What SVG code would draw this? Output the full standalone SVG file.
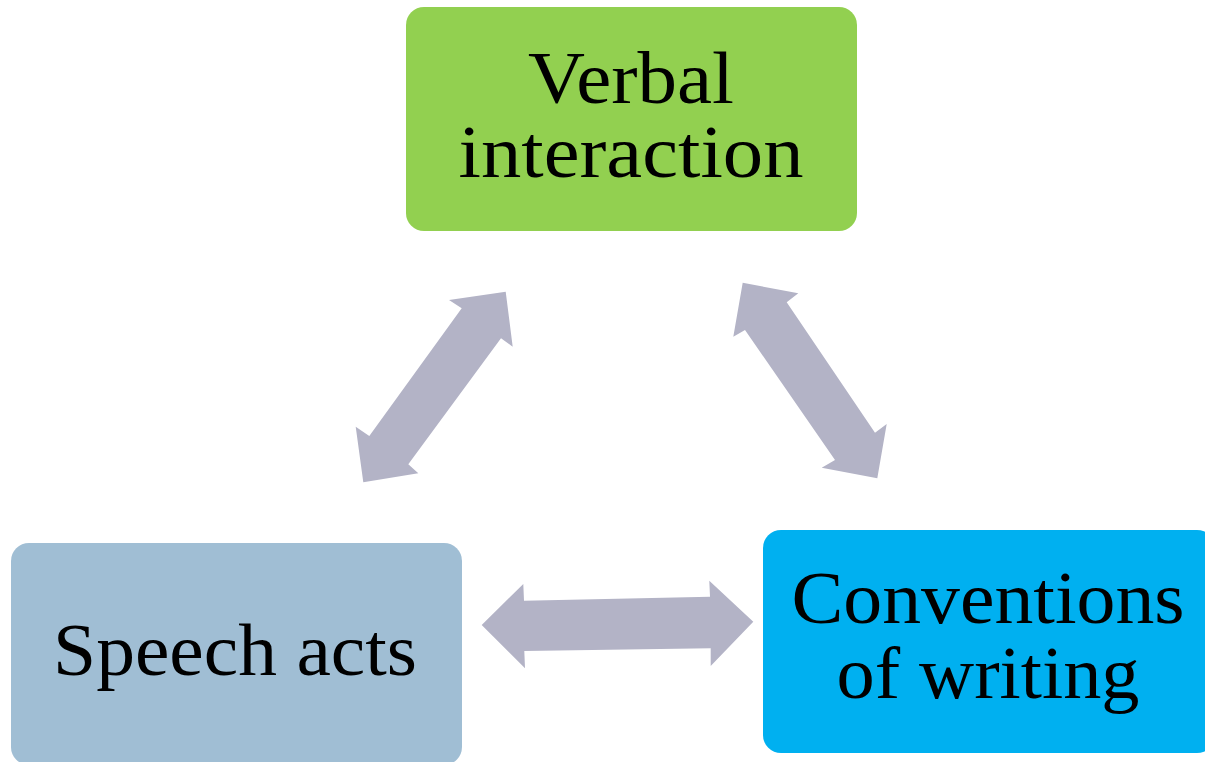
<svg xmlns="http://www.w3.org/2000/svg" width="1205" height="762" viewBox="0 0 1205 762">
<style>
.lbl{font-family:"Liberation Serif","Times New Roman",serif;font-size:74px;fill:#000;text-anchor:middle}
.arr{fill:#B3B3C6}
</style>
<rect width="1205" height="762" fill="#fff"/>
<g id="connectors">
<polygon class="arr" points="505.7,291.7 512.7,346.7 501,338.3 408.3,464.3 418.3,473.3 363.3,482.3 355.7,426.7 369.3,436 461.7,308.3 449,300"/>
<polygon class="arr" points="742.7,282.7 798.3,293.3 786.7,302.3 875,432.7 886.7,424 877.3,478.3 821.7,467.7 835,460 745,330 733.3,336.7"/>
<polygon class="arr" points="481.7,625 523.3,584 524,600.7 710,596.7 709.3,580.7 753.3,621.7 710.7,666 710.7,648.3 524.3,651 525,668.3"/>
</g>
<g id="verbal">
<rect x="406" y="7" width="451" height="224" rx="18" fill="#92D050"/>
<text class="lbl" x="631" y="103" textLength="206" lengthAdjust="spacingAndGlyphs">Verbal</text>
<text class="lbl" x="631" y="177" textLength="345" lengthAdjust="spacingAndGlyphs">interaction</text>
</g>
<g id="speech">
<rect x="11" y="543" width="451" height="222" rx="18" fill="#A0BED4"/>
<text class="lbl" x="235" y="675" textLength="364" lengthAdjust="spacingAndGlyphs">Speech acts</text>
</g>
<g id="conventions">
<rect x="763" y="530" width="452" height="223" rx="18" fill="#00B0F0"/>
<text class="lbl" x="988" y="623" textLength="393" lengthAdjust="spacingAndGlyphs">Conventions</text>
<text class="lbl" x="988" y="698" textLength="303" lengthAdjust="spacingAndGlyphs">of writing</text>
</g>
</svg>
